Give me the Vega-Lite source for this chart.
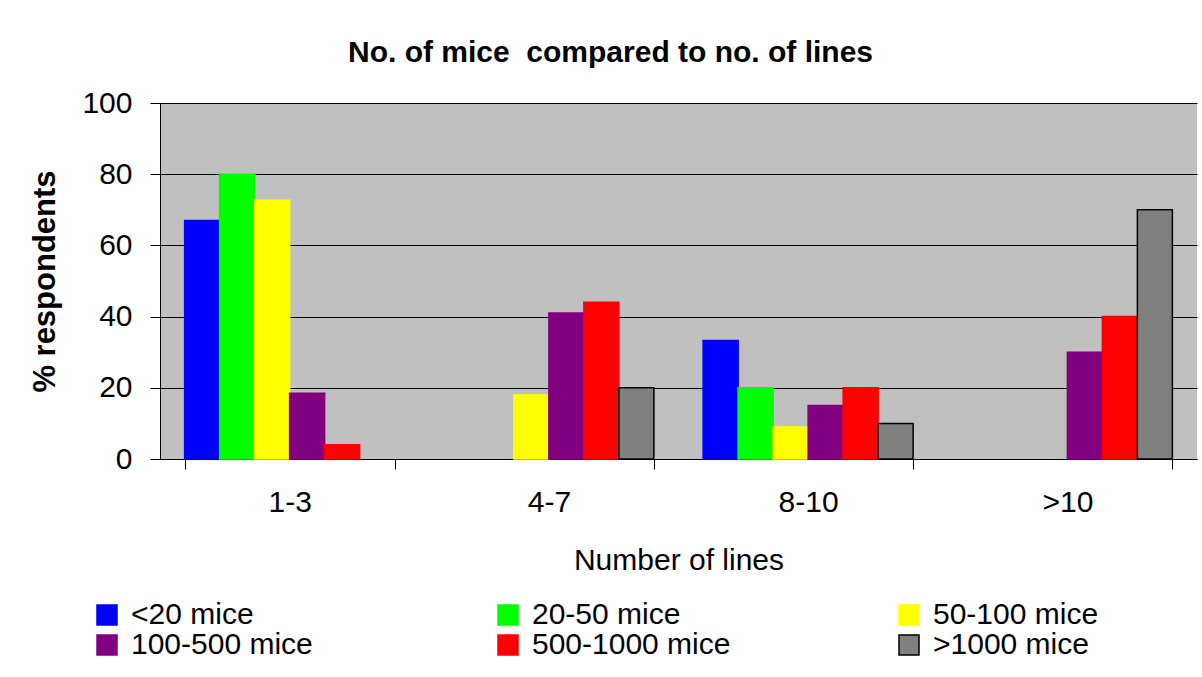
{
  "$schema": "https://vega.github.io/schema/vega-lite/v6.json",
  "autosize": {"type": "none"},
  "width": 1037,
  "height": 356,
  "padding": {"left": 160, "top": 103, "right": 5, "bottom": 218},
  "background": "white",
  "title": {
    "text": "No. of mice \u00a0compared to no. of lines",
    "font": "Liberation Sans",
    "fontSize": 30,
    "fontWeight": "bold",
    "color": "black",
    "anchor": "middle",
    "dx": -68,
    "offset": 20
  },
  "data": {
    "values": [
      {"lines": "1-3", "series": "<20 mice", "pct": 67},
      {"lines": "1-3", "series": "20-50 mice", "pct": 80},
      {"lines": "1-3", "series": "50-100 mice", "pct": 72.7},
      {"lines": "1-3", "series": "100-500 mice", "pct": 18.5},
      {"lines": "1-3", "series": "500-1000 mice", "pct": 4},
      {"lines": "4-7", "series": "50-100 mice", "pct": 18},
      {"lines": "4-7", "series": "100-500 mice", "pct": 41},
      {"lines": "4-7", "series": "500-1000 mice", "pct": 44},
      {"lines": "4-7", "series": ">1000 mice", "pct": 20},
      {"lines": "8-10", "series": "<20 mice", "pct": 33.3},
      {"lines": "8-10", "series": "20-50 mice", "pct": 20},
      {"lines": "8-10", "series": "50-100 mice", "pct": 9},
      {"lines": "8-10", "series": "100-500 mice", "pct": 15},
      {"lines": "8-10", "series": "500-1000 mice", "pct": 20},
      {"lines": "8-10", "series": ">1000 mice", "pct": 10},
      {"lines": ">10", "series": "100-500 mice", "pct": 30},
      {"lines": ">10", "series": "500-1000 mice", "pct": 40},
      {"lines": ">10", "series": ">1000 mice", "pct": 70}
    ]
  },
  "mark": {"type": "bar", "strokeWidth": 1.5},
  "encoding": {
    "x": {
      "field": "lines",
      "type": "nominal",
      "sort": ["1-3", "4-7", "8-10", ">10"],
      "scale": {"paddingInner": 0.19, "paddingOuter": 0.095},
      "axis": {
        "title": "Number of lines",
        "labelAngle": 0,
        "labelFont": "Liberation Sans",
        "labelFontSize": 30,
        "labelColor": "black",
        "labelPadding": 18,
        "tickBand": "extent",
        "tickSize": 10,
        "tickColor": "black",
        "domainColor": "black",
        "titleFont": "Liberation Sans",
        "titleFontSize": 30,
        "titleFontWeight": "normal",
        "titleColor": "black",
        "titlePadding": 28
      }
    },
    "xOffset": {
      "field": "series",
      "type": "nominal",
      "sort": ["<20 mice", "20-50 mice", "50-100 mice", "100-500 mice", "500-1000 mice", ">1000 mice"],
      "scale": {"paddingInner": 0, "paddingOuter": 0}
    },
    "y": {
      "field": "pct",
      "type": "quantitative",
      "scale": {"domain": [0, 100], "nice": false},
      "axis": {
        "title": "% respondents",
        "values": [0, 20, 40, 60, 80, 100],
        "labelFont": "Liberation Sans",
        "labelFontSize": 30,
        "labelColor": "black",
        "labelPadding": 18,
        "tickSize": 10,
        "tickColor": "black",
        "domainColor": "black",
        "gridColor": "black",
        "gridOpacity": 1,
        "gridWidth": 1,
        "titleFont": "Liberation Sans",
        "titleFontSize": 31,
        "titleFontWeight": "bold",
        "titleColor": "black",
        "titlePadding": 20
      }
    },
    "fill": {
      "field": "series",
      "type": "nominal",
      "sort": ["<20 mice", "20-50 mice", "50-100 mice", "100-500 mice", "500-1000 mice", ">1000 mice"],
      "scale": {
        "domain": ["<20 mice", "20-50 mice", "50-100 mice", "100-500 mice", "500-1000 mice", ">1000 mice"],
        "range": ["#0000FF", "#00FF00", "#FFFF00", "#800080", "#FF0000", "#808080"]
      },
      "legend": {
        "title": null,
        "orient": "none",
        "legendX": -68,
        "legendY": 497,
        "direction": "horizontal",
        "columns": 3,
        "gridAlign": "all",
        "columnPadding": 163,
        "rowPadding": 0,
        "symbolType": "square",
        "symbolSize": 400,
        "symbolStrokeWidth": 1.5,
        "labelFont": "Liberation Sans",
        "labelFontSize": 30,
        "labelColor": "black",
        "labelOffset": 9,
        "labelLimit": 400
      }
    },
    "stroke": {
      "field": "series",
      "type": "nominal",
      "sort": ["<20 mice", "20-50 mice", "50-100 mice", "100-500 mice", "500-1000 mice", ">1000 mice"],
      "scale": {
        "domain": ["<20 mice", "20-50 mice", "50-100 mice", "100-500 mice", "500-1000 mice", ">1000 mice"],
        "range": ["#0000FF", "#00FF00", "#FFFF00", "#800080", "#FF0000", "#000000"]
      },
      "legend": {
        "title": null,
        "orient": "none",
        "legendX": -68,
        "legendY": 497,
        "direction": "horizontal",
        "columns": 3,
        "gridAlign": "all",
        "columnPadding": 163,
        "rowPadding": 0,
        "symbolType": "square",
        "symbolSize": 400,
        "symbolStrokeWidth": 1.5,
        "labelFont": "Liberation Sans",
        "labelFontSize": 30,
        "labelColor": "black",
        "labelOffset": 9,
        "labelLimit": 400
      }
    }
  },
  "config": {
    "view": {"fill": "#C0C0C0", "stroke": null},
    "axis": {"gridDash": []}
  }
}
